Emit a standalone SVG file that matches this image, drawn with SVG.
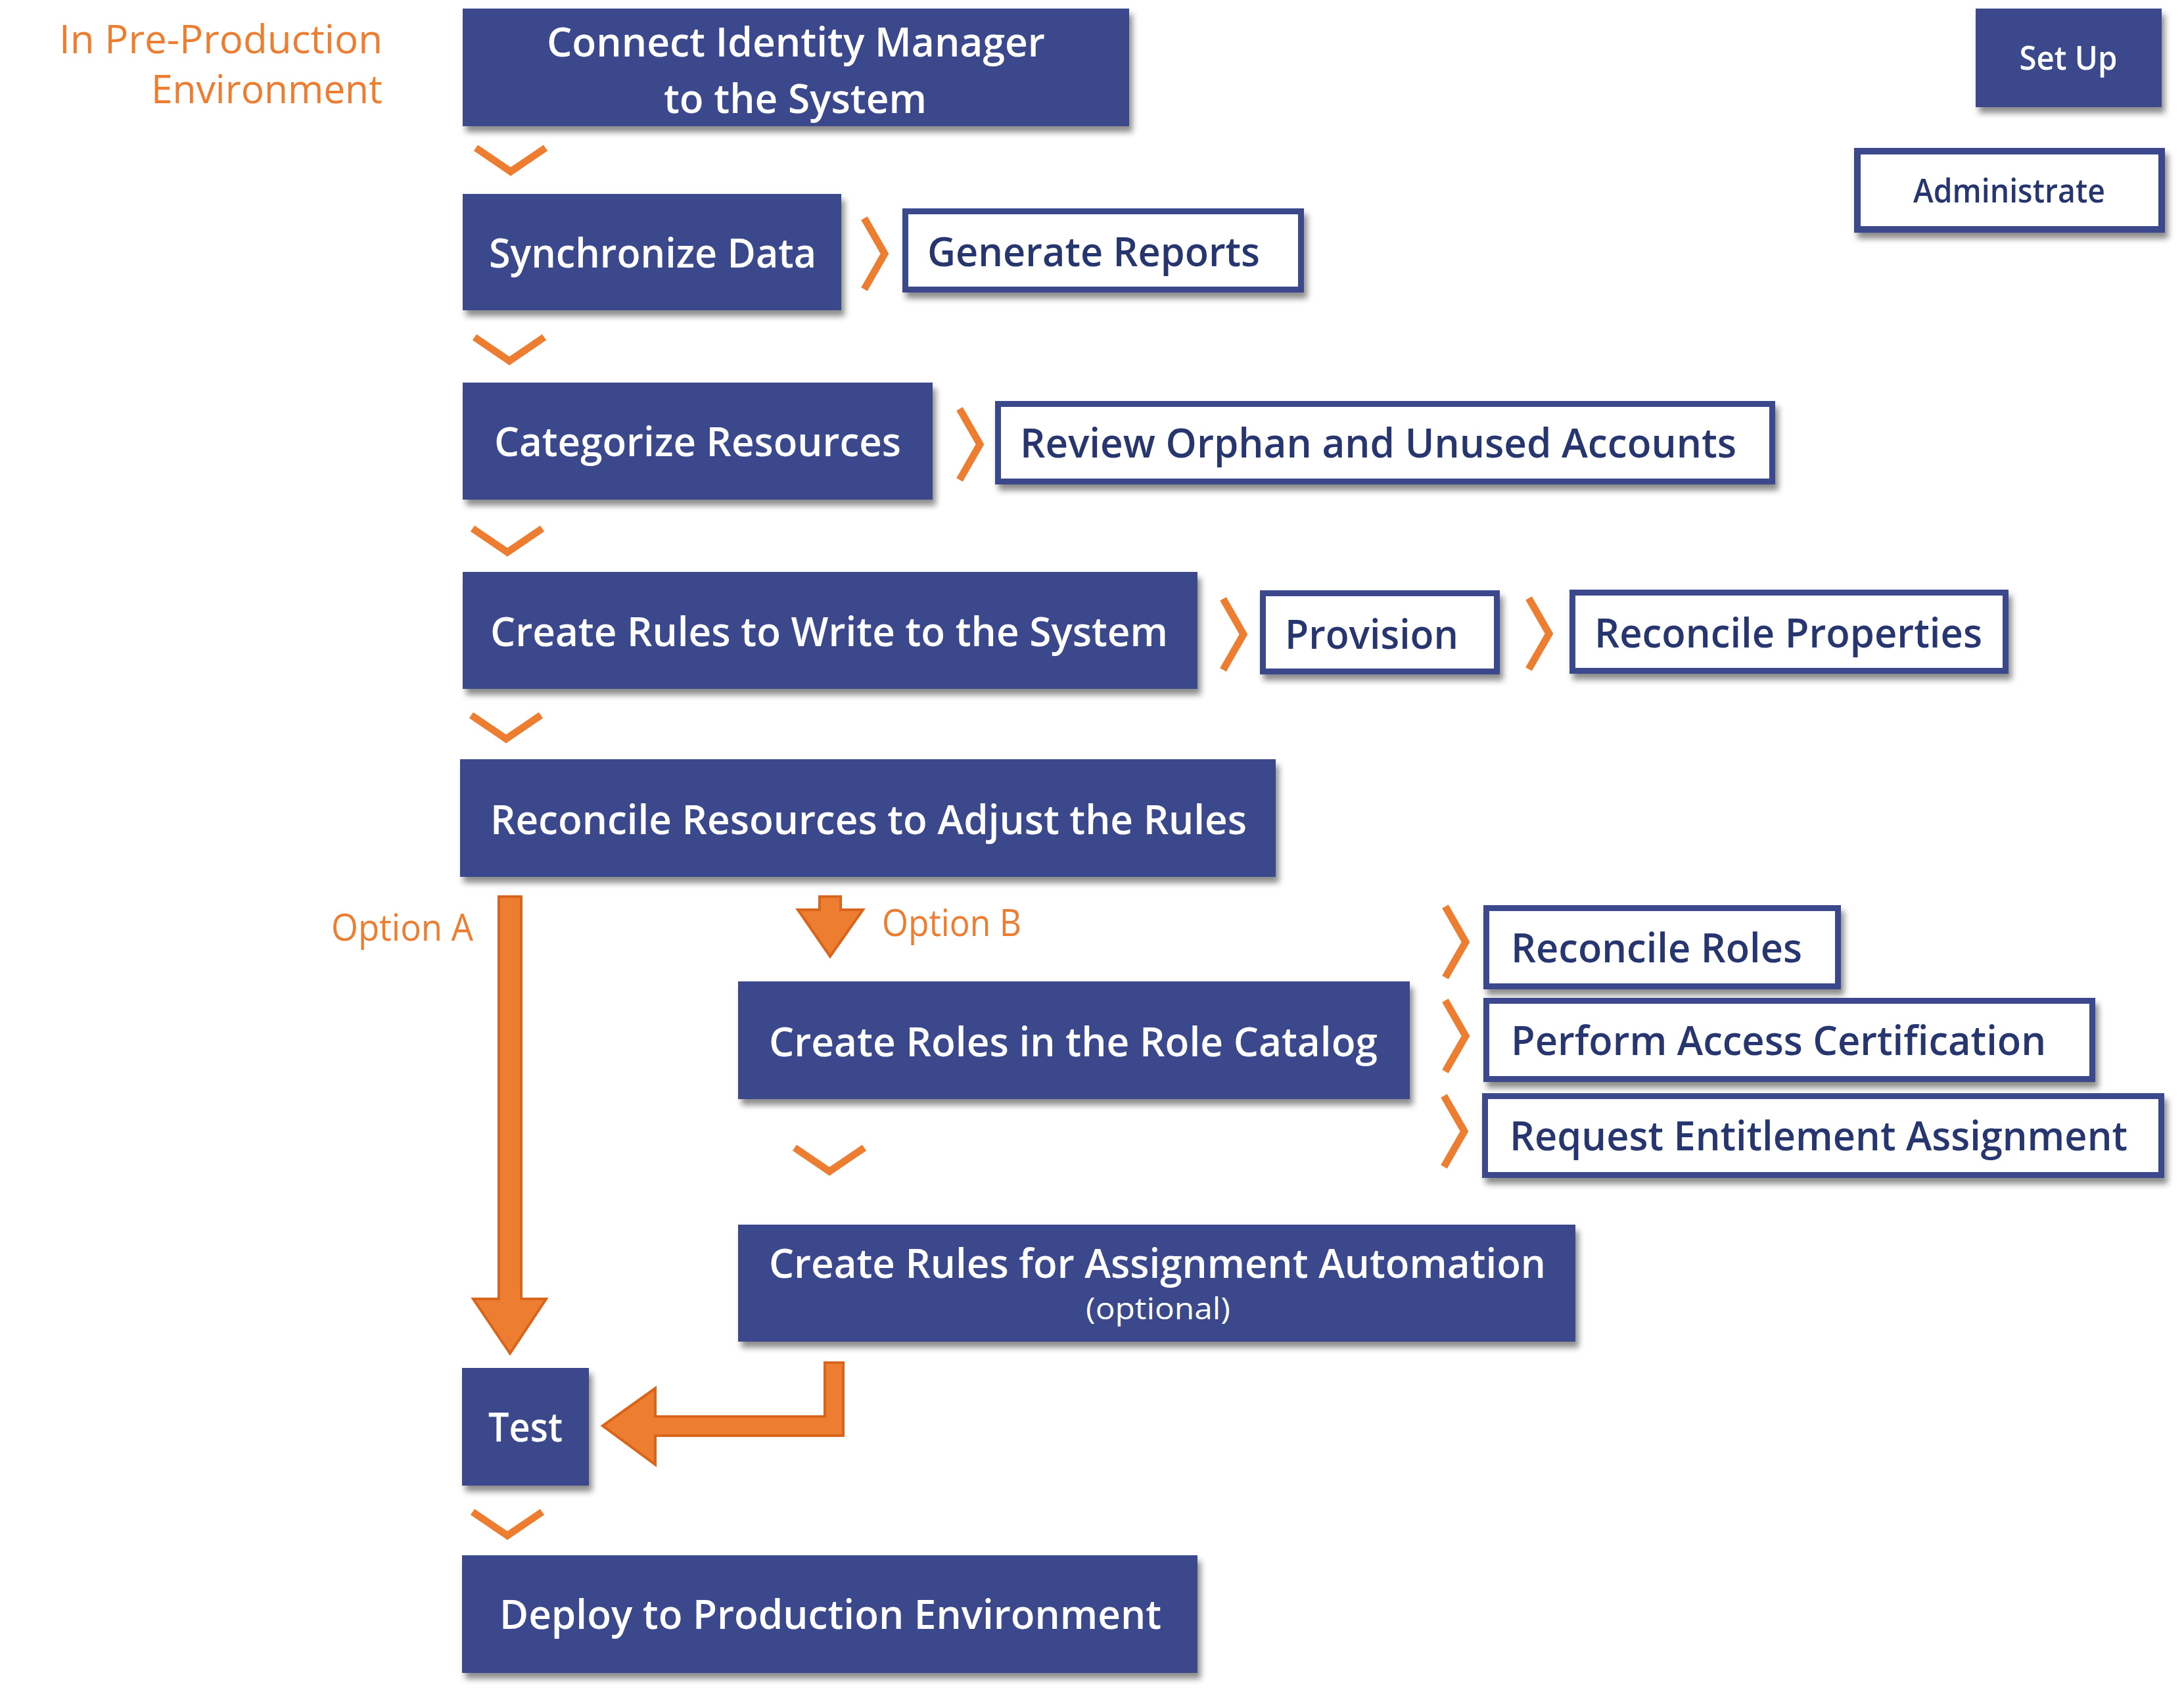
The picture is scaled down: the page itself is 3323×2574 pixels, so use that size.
<svg xmlns="http://www.w3.org/2000/svg" xmlns:xlink="http://www.w3.org/1999/xlink" width="3323" height="2574" viewBox="0 0 3323 2574">
<style>
.bg{fill:#ffffff}
.solid{fill:#3A4A8C;filter:url(#sh)}
.outline{fill:#ffffff;stroke:#3A4A8C;stroke-width:9;filter:url(#sh)}
.wt{font-family:"Open Sans","Noto Sans","Liberation Sans",sans-serif;font-weight:600;font-size:62px;fill:#ffffff}
.nt{font-family:"Open Sans","Noto Sans","Liberation Sans",sans-serif;font-weight:600;font-size:61px;fill:#283670}
.ot{font-family:"Open Sans","Noto Sans","Liberation Sans",sans-serif;font-weight:400;fill:#ED7D31}
.sm{font-size:50px}
.opt{font-size:46px;font-weight:400}
.chev{fill:none;stroke:#ED7D31;stroke-width:11;stroke-linejoin:miter;stroke-miterlimit:10;stroke-linecap:butt}
.arr{fill:#ED7D31;stroke:#D9651C;stroke-width:4;stroke-linejoin:miter}
</style>
<defs>
<filter id="sh" x="-10%" y="-20%" width="125%" height="150%">
<feDropShadow dx="5" dy="9" stdDeviation="5" flood-color="#000000" flood-opacity="0.45"/>
</filter>
<polyline id="cd" points="-53,-36 0,0 53,-36"/>
<polyline id="cr" points="-31,-54 0,0 -31,54"/>
</defs>
<rect class="bg" x="0" y="0" width="3323" height="2574"/>

<g id="label-env">
<text class="ot" font-size="61" x="582" y="81" text-anchor="end" textLength="492" lengthAdjust="spacingAndGlyphs">In Pre-Production</text>
<text class="ot" font-size="61" x="582" y="157" text-anchor="end" textLength="352" lengthAdjust="spacingAndGlyphs">Environment</text>
</g>

<g id="connectors">
<use href="#cd" class="chev" x="777" y="261"/>
<use href="#cd" class="chev" x="775" y="549"/>
<use href="#cd" class="chev" x="772" y="840"/>
<use href="#cd" class="chev" x="770" y="1124"/>
<use href="#cd" class="chev" x="1262" y="1782"/>
<use href="#cd" class="chev" x="772" y="2336"/>
<use href="#cr" class="chev" x="1346" y="386"/>
<use href="#cr" class="chev" x="1491" y="676"/>
<use href="#cr" class="chev" x="1892" y="965"/>
<use href="#cr" class="chev" x="2357" y="964"/>
<use href="#cr" class="chev" x="2230" y="1433"/>
<use href="#cr" class="chev" x="2230" y="1576"/>
<use href="#cr" class="chev" x="2228" y="1721"/>
<path class="arr" d="M759,1364 H793 V1976 H831 L776,2059 L720,1976 H759 Z"/>
<path class="arr" d="M1247,1364 H1279 V1384 H1313 L1263,1455 L1214,1384 H1247 Z"/>
<path class="arr" d="M1255,2073 H1283 V2184 H997 V2228 L917,2169 L997,2112 V2155 H1255 Z"/>
<text class="ot" font-size="56" x="504" y="1431" textLength="216" lengthAdjust="spacingAndGlyphs">Option A</text>
<text class="ot" font-size="56" x="1342" y="1424" textLength="212" lengthAdjust="spacingAndGlyphs">Option B</text>
</g>

<g id="n-connect">
<rect class="solid" x="704" y="13" width="1014" height="179"/>
<text class="wt" x="1211" y="86" text-anchor="middle" textLength="758" lengthAdjust="spacingAndGlyphs">Connect Identity Manager</text>
<text class="wt" x="1210" y="172" text-anchor="middle" textLength="400" lengthAdjust="spacingAndGlyphs">to the System</text>
</g>
<g id="n-sync">
<rect class="solid" x="704" y="295" width="576" height="177"/>
<text class="wt" x="993" y="407" text-anchor="middle" textLength="498" lengthAdjust="spacingAndGlyphs">Synchronize Data</text>
</g>
<g id="n-reports">
<rect class="outline" x="1377.5" y="321.5" width="602" height="119"/>
<text class="nt" x="1411" y="405" textLength="506" lengthAdjust="spacingAndGlyphs">Generate Reports</text>
</g>
<g id="n-categorize">
<rect class="solid" x="704" y="582" width="715" height="178"/>
<text class="wt" x="1061.5" y="694" text-anchor="middle" textLength="619" lengthAdjust="spacingAndGlyphs">Categorize Resources</text>
</g>
<g id="n-orphan">
<rect class="outline" x="1518.5" y="614.5" width="1178" height="118"/>
<text class="nt" x="1552" y="696" textLength="1090" lengthAdjust="spacingAndGlyphs">Review Orphan and Unused Accounts</text>
</g>
<g id="n-writerules">
<rect class="solid" x="704" y="870" width="1118" height="178"/>
<text class="wt" x="1261.5" y="983" text-anchor="middle" textLength="1031" lengthAdjust="spacingAndGlyphs">Create Rules to Write to the System</text>
</g>
<g id="n-provision">
<rect class="outline" x="1921.5" y="902.5" width="356" height="119"/>
<text class="nt" x="1955" y="987" textLength="264" lengthAdjust="spacingAndGlyphs">Provision</text>
</g>
<g id="n-recprops">
<rect class="outline" x="2392.5" y="901.5" width="659" height="119"/>
<text class="nt" x="2426" y="985" textLength="590" lengthAdjust="spacingAndGlyphs">Reconcile Properties</text>
</g>
<g id="n-recres">
<rect class="solid" x="700" y="1155" width="1241" height="179"/>
<text class="wt" x="1321.5" y="1269" text-anchor="middle" textLength="1151" lengthAdjust="spacingAndGlyphs">Reconcile Resources to Adjust the Rules</text>
</g>
<g id="n-roles">
<rect class="solid" x="1123" y="1493" width="1022" height="179"/>
<text class="wt" x="1633" y="1607" text-anchor="middle" textLength="926" lengthAdjust="spacingAndGlyphs">Create Roles in the Role Catalog</text>
</g>
<g id="n-recroles">
<rect class="outline" x="2261.5" y="1381.5" width="535" height="119"/>
<text class="nt" x="2299" y="1464" textLength="443" lengthAdjust="spacingAndGlyphs">Reconcile Roles</text>
</g>
<g id="n-cert">
<rect class="outline" x="2261.5" y="1522.5" width="922" height="119"/>
<text class="nt" x="2299" y="1605" textLength="814" lengthAdjust="spacingAndGlyphs">Perform Access Certification</text>
</g>
<g id="n-request">
<rect class="outline" x="2259.5" y="1667.5" width="1029" height="120"/>
<text class="nt" x="2297" y="1750" textLength="940" lengthAdjust="spacingAndGlyphs">Request Entitlement Assignment</text>
</g>
<g id="n-assign">
<rect class="solid" x="1123" y="1863" width="1274" height="178"/>
<text class="wt" x="1761" y="1944" text-anchor="middle" textLength="1182" lengthAdjust="spacingAndGlyphs">Create Rules for Assignment Automation</text>
<text class="wt opt" x="1762" y="2007" text-anchor="middle" textLength="220" lengthAdjust="spacingAndGlyphs">(optional)</text>
</g>
<g id="n-test">
<rect class="solid" x="703" y="2081" width="193" height="179"/>
<text class="wt" x="799.5" y="2193" text-anchor="middle" textLength="113" lengthAdjust="spacingAndGlyphs">Test</text>
</g>
<g id="n-deploy">
<rect class="solid" x="703" y="2366" width="1119" height="179"/>
<text class="wt" x="1263.5" y="2478" text-anchor="middle" textLength="1007" lengthAdjust="spacingAndGlyphs">Deploy to Production Environment</text>
</g>
<g id="legend-setup">
<rect class="solid" x="3006" y="13" width="283" height="150"/>
<text class="wt sm" x="3147" y="106" text-anchor="middle" textLength="149" lengthAdjust="spacingAndGlyphs">Set Up</text>
</g>
<g id="legend-admin">
<rect class="outline" x="2826" y="230" width="463" height="119" style="stroke-width:10"/>
<text class="nt sm" x="3057" y="308" text-anchor="middle" textLength="292" lengthAdjust="spacingAndGlyphs">Administrate</text>
</g>
</svg>
